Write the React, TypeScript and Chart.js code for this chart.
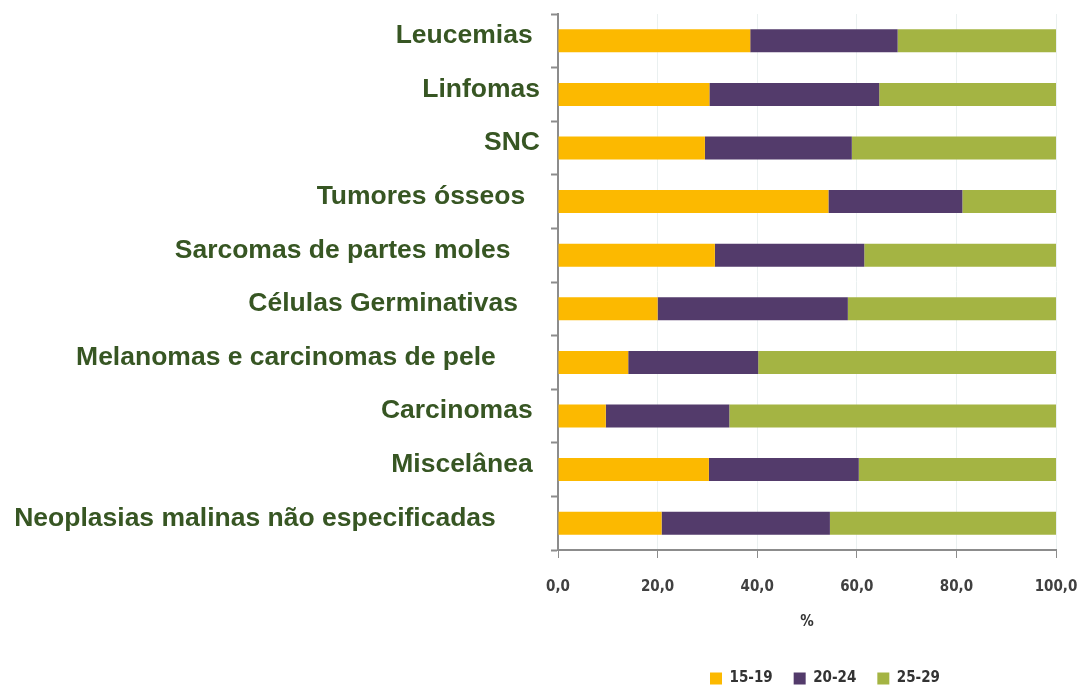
import React, { useEffect, useRef } from "react";
import { Chart, registerables } from "chart.js";

Chart.register(...registerables);

const categories = [
  "Leucemias ",
  "Linfomas",
  "SNC",
  "Tumores ósseos  ",
  "Sarcomas de partes moles    ",
  "Células Germinativas   ",
  "Melanomas e carcinomas de pele      ",
  "Carcinomas ",
  "Miscelânea ",
  "Neoplasias malinas não especificadas      ",
];

const seriesNames = ["15-19", "20-24", "25-29"];
const values1519 = [38.6, 30.4, 29.5, 54.3, 31.5, 20.0, 14.1, 9.6, 30.3, 20.8];
const values2024 = [29.6, 34.1, 29.5, 26.9, 30.0, 38.2, 26.1, 24.8, 30.1, 33.8];
const values2529 = [31.8, 35.5, 41.0, 18.8, 38.5, 41.8, 59.8, 65.6, 39.6, 45.4];
const seriesColors = ["#FCB900", "#533B6B", "#A4B443"];
const xTicks = [0, 20, 40, 60, 80, 100];

const legendShift = {
  id: "legendShift",
  afterLayout(chart: any) {
    const lg = chart.legend;
    if (lg) {
      lg.left += 18;
      lg.right += 18;
    }
  },
};

export default function App() {
  const ref = useRef<HTMLCanvasElement | null>(null);

  useEffect(() => {
    document.body.style.margin = "0";
    const ctx = ref.current;
    if (!ctx) return;
    const axisGray = "#8c8c8c";
    const smallFont = "'Liberation Sans Narrow', 'DejaVu Sans Condensed', sans-serif";
    const chart = new Chart(ctx, {
      type: "bar",
      data: {
        labels: categories,
        datasets: [values1519, values2024, values2529].map((d, i) => ({
          label: seriesNames[i],
          data: d,
          backgroundColor: seriesColors[i],
          borderWidth: 0,
          barPercentage: 0.43,
          categoryPercentage: 1,
        })),
      },
      options: {
        indexAxis: "y",
        animation: false,
        responsive: false,
        maintainAspectRatio: false,
        layout: { padding: { left: 14, right: 26, top: 14, bottom: -6 } },
        plugins: {
          tooltip: { enabled: false },
          legend: {
            position: "bottom",
            fullSize: false,
            labels: {
              boxWidth: 12,
              boxHeight: 12,
              padding: 21,
              color: "#333333",
              font: { family: smallFont, size: 15, weight: "bold" },
            },
          },
        },
        scales: {
          x: {
            stacked: true,
            min: 0,
            max: 100,
            afterBuildTicks: (scale: any) => {
              scale.ticks = xTicks.map((v) => ({ value: v }));
            },
            afterFit: (s: any) => {
              s.paddingLeft = 0;
              s.paddingRight = 0;
            },
            ticks: {
              color: "#404040",
              padding: 20,
              font: { family: smallFont, size: 15, weight: "bold" },
              callback: (v: any) => Number(v).toFixed(1).replace(".", ","),
            },
            grid: {
              color: "#eaf0f0",
              tickColor: axisGray,
              tickLength: 8,
              lineWidth: 1,
            },
            border: { color: axisGray, width: 2 },
            title: {
              display: true,
              text: "%",
              color: "#333333",
              padding: { top: -3, bottom: 19 },
              font: { family: smallFont, size: 15, weight: "bold" },
            },
          },
          y: {
            stacked: true,
            afterFit: (s: any) => {
              s.width = 544;
              s.paddingTop = 0;
              s.paddingBottom = 0;
            },
            ticks: {
              color: "#375623",
              padding: 11,
              labelOffset: -5,
              autoSkip: false,
              font: { family: "'Liberation Sans', Arial, sans-serif", size: 26.5, weight: "bold" },
            },
            grid: {
              offset: true,
              drawOnChartArea: false,
              tickColor: axisGray,
              tickLength: 7,
              tickWidth: 2,
            },
            border: { color: axisGray, width: 2 },
          },
        },
      },
      plugins: [legendShift],
    });
    return () => chart.destroy();
  }, []);

  return (
    <div style={{ width: 1082, height: 690 }}>
      <canvas ref={ref} width={1082} height={690} style={{ display: "block" }} />
    </div>
  );
}
